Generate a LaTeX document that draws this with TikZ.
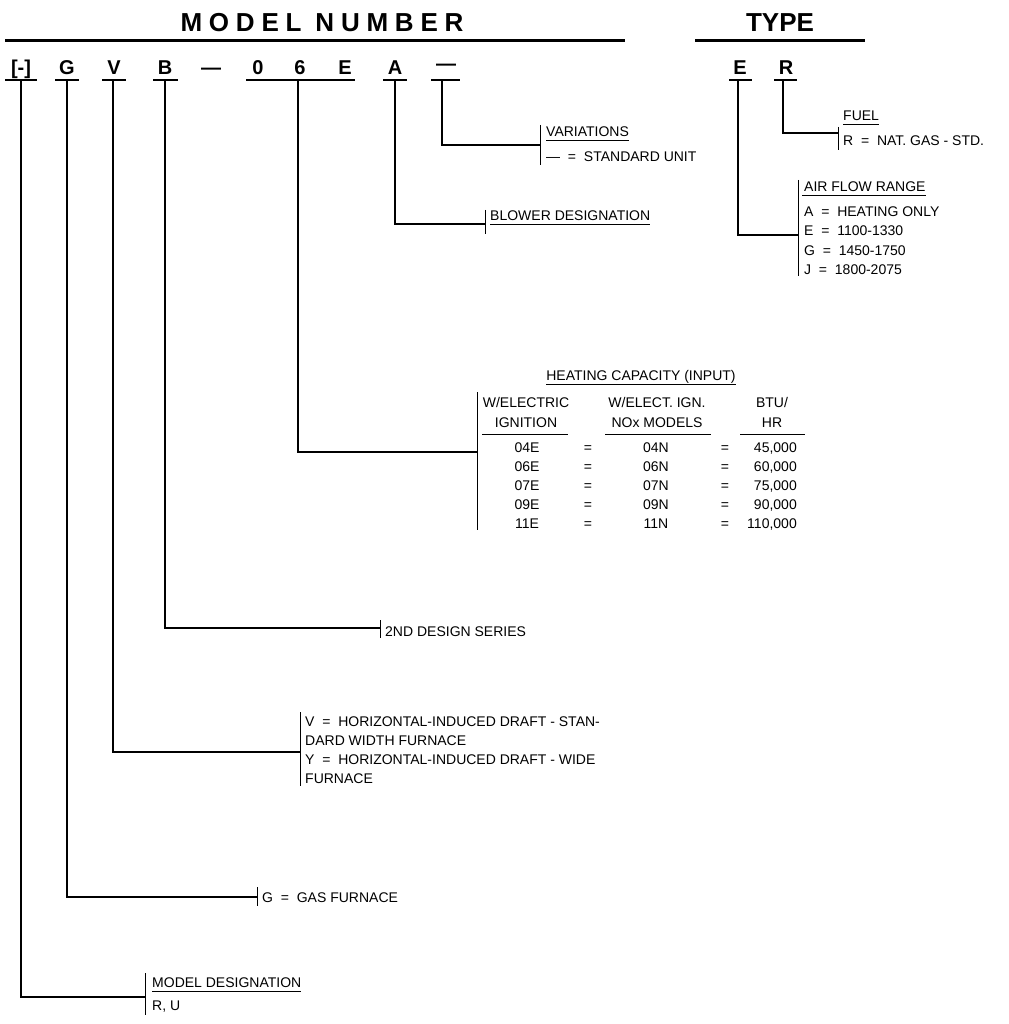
\documentclass[tikz,border=0pt]{standalone}
\usepackage{fontspec}
\setmainfont{Liberation Sans}
\begin{document}
\begin{tikzpicture}[x=1pt,y=-1pt,
  lbl/.style={inner sep=0, anchor=base west, font=\fontsize{14}{14}\selectfont},
  cell/.style={inner sep=0, anchor=base, font=\fontsize{14}{14}\selectfont},
  cellr/.style={inner sep=0, anchor=base east, font=\fontsize{14}{14}\selectfont},
  ltr/.style={inner sep=0, anchor=base, font=\fontsize{20}{20}\selectfont\bfseries},
  head/.style={inner sep=0, anchor=base, font=\fontsize{26}{26}\selectfont\bfseries},
  conn/.style={line width=1.8pt},
  tickl/.style={line width=1pt},
  ul/.style={line width=1.4pt},
  thick rule/.style={line width=3pt}]
\useasboundingbox (0,0) rectangle (1008,1024);

% headers
\node[head, font=\fontsize{26}{26}\selectfont\bfseries\addfontfeature{LetterSpace=26}] (mn) at (322,32) {MODEL NUMBER};
\node[head] (ty) at (780,32) {TYPE};
\draw[thick rule] (5,41) -- (625,41);
\draw[thick rule] (695,41) -- (865,41);

% model number letters
\node[ltr] (l1) at (21,75) {[-]};
\node[ltr] (l2) at (67,75) {G};
\node[ltr] (l3) at (114,75) {V};
\node[ltr] (l4) at (165,75) {B};
\node[ltr] (l5) at (211,75) {---};
\node[ltr] (l6) at (258,75) {0};
\node[ltr] (l7) at (300,75) {6};
\node[ltr] (l8) at (345,75) {E};
\node[ltr] (l9) at (395,75) {A};
\node[ltr] (l10) at (446,71) {---};
\node[ltr] (t1) at (740,75) {E};
\node[ltr] (t2) at (786,75) {R};

\draw[ul] (5,80) -- (37,80);
\draw[ul] (55,80) -- (79,80);
\draw[ul] (102,80) -- (126,80);
\draw[ul] (153,80) -- (178,80);
\draw[ul] (246,80) -- (355,80);
\draw[ul] (383,80) -- (407,80);
\draw[ul] (431,80) -- (460,80);
\draw[ul] (729,80) -- (752,80);
\draw[ul] (774,80) -- (797,80);

% stem start coordinates
\coordinate (s1) at (21,80);
\coordinate (s2) at (67,80);
\coordinate (s3) at (113,80);
\coordinate (s4) at (165,80);
\coordinate (s6) at (298,80);
\coordinate (s9) at (395,80);
\coordinate (s10) at (442,80);
\coordinate (st1) at (738,80);
\coordinate (st2) at (783,80);

% tick coordinates (connector ends)
\coordinate (k1) at (145,997);
\coordinate (k2) at (257,897);
\coordinate (k3) at (300,752);
\coordinate (k4) at (380,628);
\coordinate (k6) at (477,452);
\coordinate (k9) at (485,224);
\coordinate (k10) at (540,145);
\coordinate (kt1) at (798,235);
\coordinate (kt2) at (838,133);

\draw[conn] (s1) |- (k1);
\draw[conn] (s2) |- (k2);
\draw[conn] (s3) |- (k3);
\draw[conn] (s4) |- (k4);
\draw[conn] (s6) |- (k6);
\draw[conn] (s9) |- (k9);
\draw[conn] (s10) |- (k10);
\draw[conn] (st1) |- (kt1);
\draw[conn] (st2) |- (kt2);

% ticks
\draw[tickl] (145,973) -- (145,1015);
\draw[tickl] (257,887) -- (257,906);
\draw[tickl] (300,712) -- (300,786);
\draw[tickl] (380,620) -- (380,638);
\draw[tickl] (477,392) -- (477,530);
\draw[tickl] (485,210) -- (485,234);
\draw[tickl] (540,125) -- (540,165);
\draw[tickl] (798,180) -- (798,276);
\draw[tickl] (838,127) -- (838,150);

% VARIATIONS
\node[lbl] (var) at (546,137) {VARIATIONS};
\draw[tickl] ([yshift=-4pt]var.base west) -- ([yshift=-4pt]var.base east);
\node[lbl] (var2) at (546,162) {---\ \ =\ \ STANDARD UNIT};

% BLOWER
\node[lbl] (blw) at (490,221) {BLOWER DESIGNATION};
\draw[tickl] ([yshift=-4pt]blw.base west) -- ([yshift=-4pt]blw.base east);

% FUEL
\node[lbl] (fuel) at (843,121) {FUEL};
\draw[tickl] ([yshift=-4pt]fuel.base west) -- ([yshift=-4pt]fuel.base east);
\node[lbl] (fuel2) at (843,146) {R\ \ =\ \ NAT. GAS - STD.};

% AIR FLOW
\node[lbl] (air) at (804,192) {AIR FLOW RANGE};
\draw[tickl] ([xshift=-2pt,yshift=-4pt]air.base west) -- ([yshift=-4pt]air.base east);
\node[lbl] (air1) at (804,217) {A\ \ =\ \ HEATING ONLY};
\node[lbl] (air2) at (804,236) {E\ \ =\ \ 1100-1330};
\node[lbl] (air3) at (804,255) {G\ \ =\ \ 1450-1750};
\node[lbl] (air4) at (804,274) {J\ \ =\ \ 1800-2075};

% HEATING CAPACITY table
\node[cell] (hc) at (641,380) {HEATING CAPACITY (INPUT)};
\draw[tickl] ([yshift=-4pt]hc.base west) -- ([yshift=-4pt]hc.base east);
\node[cell] (c1a) at (526,407) {W/ELECTRIC};
\node[cell] (c1b) at (526,427) {IGNITION};
\node[cell] (c2a) at (657,407) {W/ELECT. IGN.};
\node[cell] (c2b) at (657,427) {NOx MODELS};
\node[cell] (c3a) at (772,407) {BTU/};
\node[cell] (c3b) at (772,427) {HR};
\draw[tickl] (482,434) -- (568,434);
\draw[tickl] (605,434) -- (711,434);
\draw[tickl] (740,434) -- (805,434);

\node[cell] (r1a) at (527,452) {04E}; \node[cell] (r1e) at (588,452) {=}; \node[cell] (r1b) at (656,452) {04N}; \node[cell] (r1f) at (725,452) {=}; \node[cellr] (r1c) at (797,452) {45,000};
\node[cell] (r2a) at (527,471) {06E}; \node[cell] (r2e) at (588,471) {=}; \node[cell] (r2b) at (656,471) {06N}; \node[cell] (r2f) at (725,471) {=}; \node[cellr] (r2c) at (797,471) {60,000};
\node[cell] (r3a) at (527,490) {07E}; \node[cell] (r3e) at (588,490) {=}; \node[cell] (r3b) at (656,490) {07N}; \node[cell] (r3f) at (725,490) {=}; \node[cellr] (r3c) at (797,490) {75,000};
\node[cell] (r4a) at (527,509) {09E}; \node[cell] (r4e) at (588,509) {=}; \node[cell] (r4b) at (656,509) {09N}; \node[cell] (r4f) at (725,509) {=}; \node[cellr] (r4c) at (797,509) {90,000};
\node[cell] (r5a) at (527,528) {11E}; \node[cell] (r5e) at (588,528) {=}; \node[cell] (r5b) at (656,528) {11N}; \node[cell] (r5f) at (725,528) {=}; \node[cellr] (r5c) at (797,528) {110,000};

% 2ND DESIGN SERIES
\node[lbl] (ds) at (385,636) {2ND DESIGN SERIES};

% V / Y
\node[lbl] (v1) at (305,726) {V\ \ =\ \ HORIZONTAL-INDUCED DRAFT - STAN-};
\node[lbl] (v2) at (305,745) {DARD WIDTH FURNACE};
\node[lbl] (v3) at (305,764) {Y\ \ =\ \ HORIZONTAL-INDUCED DRAFT - WIDE};
\node[lbl] (v4) at (305,783) {FURNACE};

% G
\node[lbl] (gf) at (262,902) {G\ \ =\ \ GAS FURNACE};

% MODEL DESIGNATION
\node[lbl] (md) at (152,987) {MODEL DESIGNATION};
\draw[tickl] ([yshift=-4pt]md.base west) -- ([yshift=-4pt]md.base east);
\node[lbl] (md2) at (152,1010) {R, U};
\end{tikzpicture}
\end{document}
